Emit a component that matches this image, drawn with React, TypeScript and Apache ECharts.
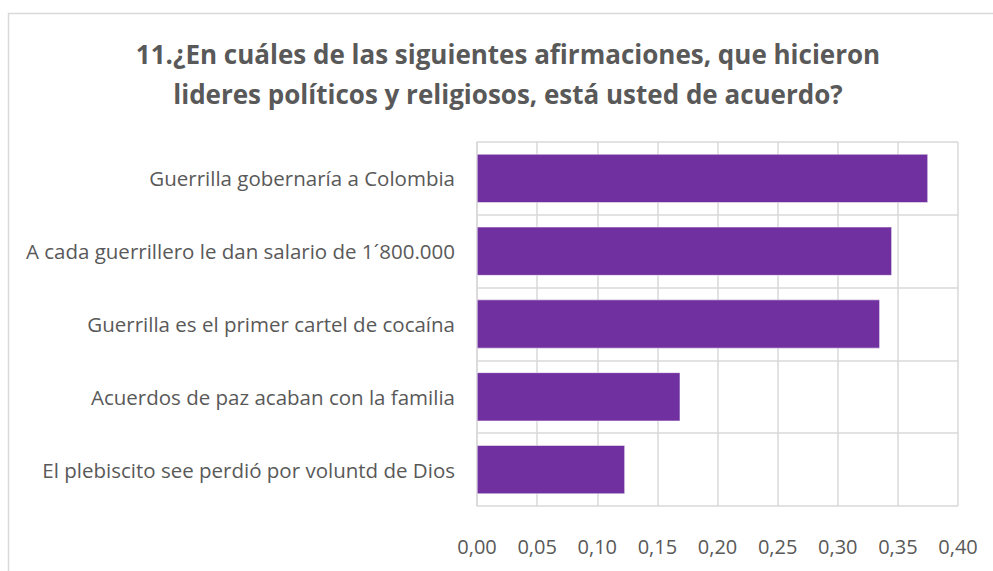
import React, { useEffect, useRef } from "react";
import * as echarts from "echarts";

const titleLines = [
  "11.¿En cuáles de las siguientes afirmaciones, que hicieron",
  "lideres políticos y religiosos, está usted de acuerdo?",
];
const categories = [
  "El plebiscito see perdió por voluntd de Dios",
  "Acuerdos de paz acaban con la familia",
  "Guerrilla es el primer cartel de cocaína",
  "A cada guerrillero le dan salario de 1´800.000",
  "Guerrilla gobernaría a Colombia",
];
const values = [0.123, 0.169, 0.335, 0.345, 0.375];
const xMin = 0;
const xMax = 0.4;
const xStep = 0.05;

const FONT = "'Open Sans', 'Noto Sans', sans-serif";
const TEXT = "#595959";
const GRID = "#d9d9d9";

export default function App() {
  const ref = useRef<HTMLDivElement>(null);
  useEffect(() => {
    if (!ref.current) return;
    const chart = echarts.init(ref.current, undefined, { renderer: "svg" });
    chart.setOption({
      animation: false,
      backgroundColor: "#ffffff",
      title: {
        text: titleLines.join("\n"),
        left: 503,
        textAlign: "center",
        top: 29,
        textStyle: {
          fontFamily: FONT,
          fontWeight: "bold",
          fontSize: 26,
          lineHeight: 40,
          color: TEXT,
        },
      },
      graphic: [
        {
          type: "rect",
          shape: { x: 8.5, y: 13.5, width: 1000, height: 600 },
          style: { fill: "none", stroke: GRID, lineWidth: 1.5 },
          silent: true,
        },
      ],
      grid: { left: 477, right: 35, top: 142, bottom: 65, containLabel: false },
      xAxis: {
        type: "value",
        min: xMin,
        max: xMax,
        interval: xStep,
        axisLine: { show: false },
        axisTick: { show: false },
        splitLine: { show: true, lineStyle: { color: GRID, width: 1.5 } },
        axisLabel: {
          margin: 30,
          color: TEXT,
          fontFamily: FONT,
          fontSize: 20,
          formatter: (v: number) => v.toFixed(2).replace(".", ","),
        },
      },
      yAxis: {
        type: "category",
        data: categories,
        axisLine: { show: true, lineStyle: { color: GRID, width: 1.5 } },
        axisTick: { show: false },
        splitLine: { show: true, lineStyle: { color: GRID, width: 1.5 } },
        axisLabel: {
          margin: 22,
          color: TEXT,
          fontFamily: FONT,
          fontSize: 20.5,
        },
      },
      series: [
        {
          type: "bar",
          data: values,
          barCategoryGap: "33%",
          itemStyle: { color: "#7030A0", borderColor: "#ffffff", borderWidth: 0.5 },
        },
      ],
    });
    return () => chart.dispose();
  }, []);
  return (
    <div
      ref={ref}
      style={{ position: "absolute", left: 0, top: 0, width: 993, height: 571 }}
    />
  );
}
